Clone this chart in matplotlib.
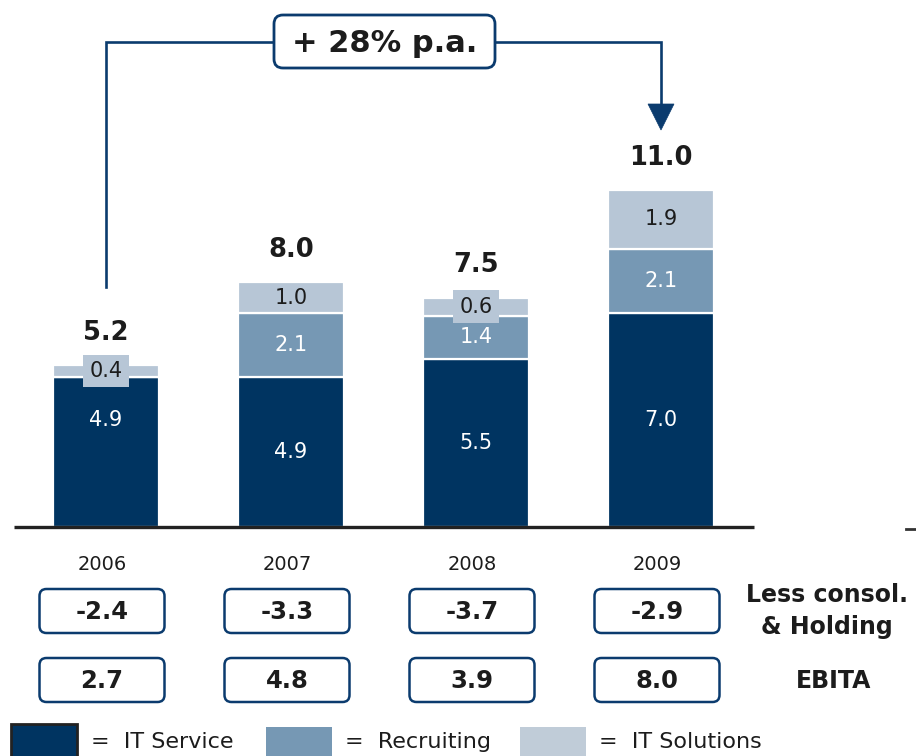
import matplotlib
matplotlib.use("Agg")
import matplotlib.pyplot as plt
from matplotlib.patches import FancyBboxPatch, Rectangle, Polygon

# EBITA by segment, EUR m
years = ["2006", "2007", "2008", "2009"]
it_service = [4.9, 4.9, 5.5, 7.0]
recruiting = [0.0, 2.1, 1.4, 2.1]
it_solutions = [0.4, 1.0, 0.6, 1.9]
segment_totals = ["5.2", "8.0", "7.5", "11.0"]
less_consol = ["-2.4", "-3.3", "-3.7", "-2.9"]
ebita = ["2.7", "4.8", "3.9", "8.0"]
growth_label = "+ 28% p.a."
row_labels = ["Less consol.\n& Holding", "EBITA"]
legend_labels = ["IT Service", "Recruiting", "IT Solutions"]

NAVY = "#003461"
MID = "#7698b4"
LIGHT = "#b7c6d6"
LINE = "#0b3b6e"
INK = "#1c1c1c"

plt.rcParams["font.family"] = "DejaVu Sans"

W, H = 916, 756
fig = plt.figure(figsize=(W / 100, H / 100), dpi=100)

# bar axes: baseline sits 527 px from the top, ~30.6 px per unit
ax = fig.add_axes([0, 229 / H, 1, 527 / H])
ax.set_xlim(-106 / 185, (W - 106) / 185)
ax.set_ylim(0, 527 / 30.6)
ax.axis("off")

# overlay in pixel units for boxes, arrow and legend
ov = fig.add_axes([0, 0, 1, 1], zorder=3)
ov.set_xlim(0, W)
ov.set_ylim(H, 0)
ov.axis("off")
ov.patch.set_alpha(0)


def to_px(x, y):
    p = ax.transData.transform((x, y))
    return ov.transData.inverted().transform(p)


x = list(range(len(years)))
width = 0.575
bottom2 = it_service
bottom3 = [a + b for a, b in zip(it_service, recruiting)]

ax.bar(x, it_service, width, color=NAVY, edgecolor="white", linewidth=1.6)
ax.bar(x, recruiting, width, bottom=bottom2, color=MID, edgecolor="white", linewidth=1.6)
ax.bar(x, it_solutions, width, bottom=bottom3, color=LIGHT, edgecolor="white", linewidth=1.6)

for i in x:
    y = it_service[i] / 2
    if i == 0:
        y += 1.05  # keep the first label level with the 2009 one
    ax.text(i, y, f"{it_service[i]:.1f}", ha="center", va="center",
            color="white", fontsize=15)
    if recruiting[i] > 0:
        ax.text(i, bottom2[i] + recruiting[i] / 2, f"{recruiting[i]:.1f}",
                ha="center", va="center", color="white", fontsize=15)
    sol_y = bottom3[i] + it_solutions[i] / 2
    if it_solutions[i] < 0.8:
        ax.text(i, sol_y, f"{it_solutions[i]:.1f}", ha="center", va="center",
                color=INK, fontsize=15,
                bbox=dict(boxstyle="square,pad=0.3", fc=LIGHT, ec="none"))
    else:
        ax.text(i, sol_y, f"{it_solutions[i]:.1f}", ha="center", va="center",
                color=INK, fontsize=15)
    top = bottom3[i] + it_solutions[i]
    ax.text(i, top + 1.05, segment_totals[i], ha="center", va="center",
            color=INK, fontsize=18.5, fontweight="bold")

# baseline
ax.plot([-0.5, 3.5], [0, 0], color="#222222", lw=2.4, solid_capstyle="butt",
        clip_on=False)
ov.plot([906, 916], [529, 529], color="#333333", lw=2)

# growth arrow from 2006 to 2009
x0 = to_px(0, 0)[0]
x3 = to_px(3, 0)[0]
ov.plot([x0, x0, x3, x3], [287, 42, 42, 106], color=LINE, lw=1.9,
        solid_joinstyle="miter", zorder=1)
ov.add_patch(Polygon([[x3 - 13, 104], [x3 + 13, 104], [x3, 130]],
                     closed=True, fc=LINE, ec=LINE, lw=0.5))
ov.add_patch(FancyBboxPatch((274, 15), 221, 53,
                            boxstyle="round,pad=0,rounding_size=9",
                            fc="white", ec=LINE, lw=2, zorder=3))
ov.text(384.5, 43, growth_label, ha="center", va="center", color=INK,
        fontsize=22, fontweight="bold", zorder=4)

# year labels and value boxes below the bars
for i in x:
    cx = to_px(i, 0)[0] - 4
    ov.text(cx, 564, years[i], ha="center", va="center", color=INK, fontsize=14)
    for (top_y, vals, ty) in [(589, less_consol, 612), (658, ebita, 681)]:
        ov.add_patch(FancyBboxPatch((cx - 62.5, top_y), 125, 44,
                                    boxstyle="round,pad=0,rounding_size=7",
                                    fc="white", ec=LINE, lw=1.8))
        ov.text(cx, ty, vals[i], ha="center", va="center", color=INK,
                fontsize=17.5, fontweight="bold")

ov.text(827, 611, row_labels[0], ha="center", va="center", color=INK,
        fontsize=17, fontweight="bold", linespacing=1.45)
ov.text(834, 681, row_labels[1], ha="center", va="center", color=INK,
        fontsize=17, fontweight="bold")

# legend
ov.add_patch(Rectangle((11, 724), 66, 40, fc=NAVY, ec="#222222", lw=2))
ov.add_patch(Rectangle((266, 727), 66, 40, fc=MID, ec="none"))
ov.add_patch(Rectangle((520, 727), 66, 40, fc="#c0ccd8", ec="none"))
for lx, lab in zip([91, 345, 599], legend_labels):
    ov.text(lx, 742, "=  " + lab, ha="left", va="center", color=INK,
            fontsize=16)

fig.savefig("out.png", dpi=100)
